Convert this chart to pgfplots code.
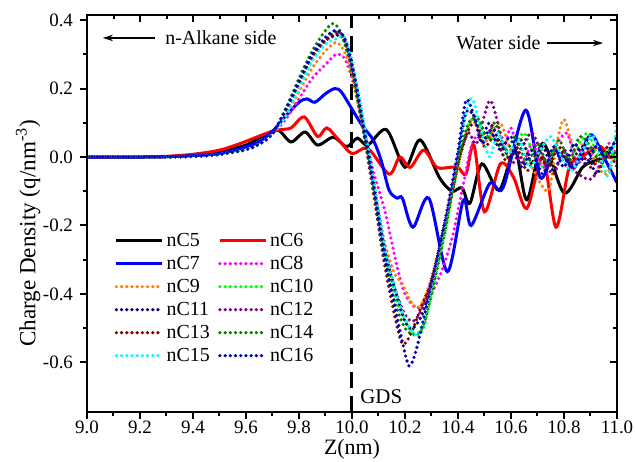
\documentclass[border=0pt]{standalone}
\usepackage{fontspec}
\IfFontExistsTF{LiberationSerif-Regular.ttf}{\setmainfont{LiberationSerif-Regular.ttf}[BoldFont=LiberationSerif-Bold.ttf, ItalicFont=LiberationSerif-Italic.ttf]}{\setmainfont{Liberation Serif}}
\usepackage{pgfplots}
\pgfplotsset{compat=1.18}
\usetikzlibrary{arrows.meta}
\definecolor{cOrange}{RGB}{255,128,0}
\definecolor{cMagenta}{RGB}{255,0,255}
\definecolor{cGreen}{RGB}{0,255,0}
\definecolor{cNavy}{RGB}{0,0,128}
\definecolor{cPurple}{RGB}{128,0,128}
\definecolor{cMaroon}{RGB}{128,0,0}
\definecolor{cDkGreen}{RGB}{0,128,0}
\definecolor{cCyan}{RGB}{0,255,255}
\definecolor{cBlue16}{RGB}{0,0,190}
\pgfplotsset{
  common/.style={
    at={(0,0)}, anchor=south west, scale only axis,
    width=265bp, height=198.5bp,
    xmin=9, xmax=11, ymin=-0.745, ymax=0.415,
    xtick={9,9.2,9.4,9.6,9.8,10,10.2,10.4,10.6,10.8,11},
    ytick={-0.6,-0.4,-0.2,0,0.2,0.4},
    minor x tick num=1, minor y tick num=1,
    major tick length=3.5bp, minor tick length=2bp,
    every tick/.style={line width=1bp, black},
    axis line style={line width=1bp},
  },
  solidc/.style={line width=1.5bp, smooth, no marks},
  dotc/.style={line width=1.8bp, smooth, no marks, line cap=round, dash pattern=on 0pt off 2.6bp},
}
\begin{document}
\begin{tikzpicture}
\useasboundingbox (-43.5bp,-25bp) rectangle (274bp,206bp);
\begin{axis}[common,
  tick align=outside, xtick pos=bottom, ytick pos=left,
  /pgf/number format/assume math mode=true,
  xticklabel style={yshift=2.5bp, /pgf/number format/.cd, fixed, fixed zerofill, precision=1},
  yticklabel style={/pgf/number format/.cd, fixed, fixed zerofill, precision=1},
  tick label style={font=\fontsize{9.5}{11}\selectfont},
  xlabel={Z(nm)}, ylabel={Charge Density (q/nm\textsuperscript{-3})},
  every axis x label/.style={at={(axis description cs:0.5,-0.095)}, anchor=center, inner sep=0pt, font=\fontsize{11}{13}\selectfont},
  every axis y label/.style={at={(axis description cs:-0.111,0.45)}, anchor=center, inner sep=0pt, rotate=90, font=\fontsize{11.6}{14}\selectfont},
  legend columns=2, legend cell align=left,
  legend image code/.code={\draw[#1] (0bp,0bp) -- (23bp,0bp);},
  legend style={at={(0.04,0.47)}, anchor=north west, draw=none, fill=none,
    font=\fontsize{10}{12}\selectfont, row sep=0.6bp,
    nodes={inner sep=1.2bp, text height=7bp, text depth=1.5bp},
    /tikz/every even column/.append style={column sep=3bp}},
]
\draw[line width=1.5bp, dash pattern=on 8bp off 4bp] (axis cs:10,-0.745) -- (axis cs:10,0.415);
% nC5
\addplot[solidc, black] coordinates {(9.0,0) (9.2,0) (9.3,0.001) (9.4,0.005) (9.5,0.015) (9.6,0.035) (9.66,0.06) (9.72,0.079) (9.77,0.044) (9.823,0.073) (9.87,0.035) (9.93,0.058) (9.98,0.03) (10.02,0.055) (10.06,0.035) (10.13,0.08) (10.2,-0.03) (10.257,0.05) (10.33,-0.06) (10.377,-0.1) (10.415,-0.09) (10.445,-0.135) (10.49,-0.02) (10.555,-0.097) (10.615,0.02) (10.66,-0.125) (10.72,0.04) (10.80,-0.105) (10.87,-0.03) (10.92,-0.01) (10.96,0.0) (11.0,0.0)};
% nC6
\addplot[solidc, red] coordinates {(9.0,0) (9.2,0) (9.3,0.002) (9.4,0.008) (9.5,0.02) (9.58,0.04) (9.63,0.055) (9.68,0.07) (9.73,0.08) (9.77,0.085) (9.82,0.117) (9.87,0.06) (9.905,0.085) (9.95,0.05) (10.0,0.01) (10.06,0.025) (10.14,-0.05) (10.18,0.0) (10.22,-0.03) (10.27,0.02) (10.32,-0.03) (10.37,-0.03) (10.40,-0.03) (10.43,-0.05) (10.46,0.035) (10.50,-0.16) (10.56,-0.02) (10.61,-0.06) (10.66,-0.15) (10.72,0.0) (10.77,-0.205) (10.82,-0.03) (10.87,0.0) (10.9,0.02) (10.94,0.03) (10.97,0.0) (11.0,0.0)};
% nC7
\addplot[solidc, blue] coordinates {(9.0,0) (9.2,0) (9.3,0.001) (9.4,0.004) (9.5,0.01) (9.6,0.03) (9.65,0.045) (9.7,0.075) (9.75,0.12) (9.8,0.16) (9.83,0.17) (9.86,0.16) (9.9,0.185) (9.935,0.2) (9.96,0.19) (10.0,0.14) (10.04,0.09) (10.08,0.05) (10.11,-0.01) (10.14,-0.097) (10.17,-0.12) (10.19,-0.12) (10.23,-0.205) (10.29,-0.12) (10.36,-0.335) (10.42,-0.126) (10.45,-0.20) (10.52,-0.077) (10.57,-0.09) (10.655,0.137) (10.71,-0.06) (10.76,0.01) (10.8,0.0) (10.84,-0.03) (10.9,0.065) (10.95,0.0) (11.0,-0.075)};
% nC8
\addplot[dotc, cMagenta] coordinates {(9.0,0) (9.2,0) (9.4,0.002) (9.5,0.008) (9.6,0.022) (9.65,0.038) (9.7,0.068) (9.75,0.11) (9.8,0.17) (9.85,0.23) (9.9,0.27) (9.94,0.30) (9.97,0.29) (10.0,0.23) (10.04,0.1) (10.08,-0.04) (10.125,-0.16) (10.17,-0.32) (10.2,-0.4) (10.24,-0.44) (10.27,-0.43) (10.3,-0.40) (10.34,-0.33) (10.38,-0.23) (10.42,-0.08) (10.45,0.03) (10.48,0.07) (10.5,0.04) (10.53,0.09) (10.57,0.02) (10.6,0.085) (10.64,-0.02) (10.68,0.04) (10.72,-0.03) (10.76,0.02) (10.81,0.07) (10.85,-0.02) (10.89,0.03) (10.93,-0.03) (10.97,0.04) (11.0,0.0)};
% nC9
\addplot[dotc, cOrange] coordinates {(9.0,0) (9.2,0) (9.4,0.002) (9.5,0.008) (9.6,0.022) (9.65,0.038) (9.7,0.068) (9.75,0.12) (9.8,0.19) (9.85,0.26) (9.9,0.31) (9.94,0.335) (9.97,0.31) (10.0,0.24) (10.04,0.09) (10.08,-0.07) (10.12,-0.24) (10.16,-0.34) (10.19,-0.37) (10.22,-0.42) (10.25,-0.44) (10.28,-0.4) (10.32,-0.3) (10.36,-0.17) (10.4,-0.03) (10.43,0.07) (10.46,0.11) (10.49,0.04) (10.52,0.06) (10.56,0.10) (10.6,0.02) (10.64,0.05) (10.68,-0.03) (10.74,-0.1) (10.77,0.03) (10.80,0.11) (10.84,0.02) (10.88,0.04) (10.92,-0.02) (10.96,-0.05) (11.0,0.02)};
% nC10
\addplot[dotc, cGreen] coordinates {(9.0,0) (9.2,0) (9.4,0.002) (9.5,0.008) (9.6,0.022) (9.65,0.038) (9.7,0.068) (9.75,0.13) (9.8,0.21) (9.85,0.29) (9.9,0.345) (9.94,0.37) (9.97,0.34) (10.0,0.26) (10.04,0.1) (10.08,-0.08) (10.12,-0.27) (10.16,-0.4) (10.2,-0.48) (10.24,-0.52) (10.27,-0.5) (10.3,-0.4) (10.35,-0.22) (10.4,-0.02) (10.44,0.09) (10.47,0.12) (10.5,0.06) (10.54,0.05) (10.58,0.0) (10.62,0.04) (10.65,0.07) (10.69,0.0) (10.73,-0.03) (10.77,0.03) (10.81,-0.02) (10.85,0.03) (10.89,0.07) (10.93,0.0) (10.97,0.02) (11.0,-0.02)};
% nC11
\addplot[dotc, cNavy] coordinates {(9.0,0) (9.2,0) (9.4,0.002) (9.5,0.008) (9.6,0.022) (9.65,0.038) (9.7,0.068) (9.75,0.14) (9.8,0.22) (9.85,0.3) (9.9,0.34) (9.94,0.355) (9.97,0.35) (10.0,0.27) (10.04,0.11) (10.08,-0.07) (10.12,-0.26) (10.16,-0.38) (10.2,-0.48) (10.23,-0.5) (10.27,-0.45) (10.31,-0.33) (10.36,-0.16) (10.4,0.0) (10.43,0.13) (10.46,0.12) (10.49,0.06) (10.52,0.1) (10.56,0.04) (10.6,0.0) (10.64,0.05) (10.68,-0.02) (10.72,0.03) (10.76,-0.04) (10.8,0.02) (10.84,-0.03) (10.88,0.04) (10.92,-0.05) (10.96,0.01) (11.0,0.05)};
% nC12
\addplot[dotc, cPurple] coordinates {(9.0,0) (9.2,0) (9.4,0.002) (9.5,0.008) (9.6,0.022) (9.65,0.038) (9.7,0.068) (9.75,0.13) (9.8,0.21) (9.85,0.29) (9.9,0.34) (9.94,0.365) (9.97,0.35) (10.0,0.27) (10.04,0.11) (10.08,-0.07) (10.12,-0.25) (10.16,-0.38) (10.2,-0.46) (10.23,-0.48) (10.26,-0.45) (10.3,-0.37) (10.35,-0.2) (10.4,-0.01) (10.44,0.07) (10.47,0.04) (10.52,0.165) (10.56,0.07) (10.6,-0.02) (10.64,0.03) (10.68,0.07) (10.72,0.0) (10.76,-0.05) (10.8,0.02) (10.84,-0.04) (10.9,-0.065) (10.94,-0.02) (10.97,0.01) (11.0,-0.03)};
% nC13
\addplot[dotc, cMaroon] coordinates {(9.0,0) (9.2,0) (9.4,0.002) (9.5,0.008) (9.6,0.022) (9.65,0.038) (9.7,0.068) (9.75,0.13) (9.8,0.21) (9.85,0.29) (9.9,0.34) (9.94,0.36) (9.97,0.34) (10.0,0.26) (10.04,0.09) (10.08,-0.1) (10.12,-0.3) (10.16,-0.46) (10.19,-0.545) (10.22,-0.52) (10.26,-0.44) (10.3,-0.36) (10.35,-0.2) (10.4,-0.02) (10.44,0.08) (10.47,0.1) (10.5,0.03) (10.54,0.06) (10.58,-0.01) (10.62,0.03) (10.66,-0.04) (10.7,0.01) (10.74,-0.03) (10.78,0.03) (10.82,-0.02) (10.86,0.02) (10.9,-0.03) (10.94,0.01) (10.97,0.03) (11.0,0.0)};
% nC14
\addplot[dotc, cDkGreen] coordinates {(9.0,0) (9.2,0) (9.4,0.002) (9.5,0.008) (9.6,0.022) (9.65,0.038) (9.7,0.068) (9.75,0.14) (9.8,0.23) (9.85,0.31) (9.9,0.37) (9.93,0.39) (9.96,0.36) (10.0,0.25) (10.04,0.09) (10.08,-0.09) (10.12,-0.29) (10.16,-0.42) (10.2,-0.5) (10.24,-0.52) (10.27,-0.49) (10.3,-0.4) (10.35,-0.22) (10.4,-0.02) (10.44,0.1) (10.48,0.11) (10.51,0.05) (10.54,0.1) (10.58,0.02) (10.62,0.06) (10.66,-0.02) (10.7,0.04) (10.74,-0.02) (10.78,0.05) (10.82,-0.01) (10.86,0.06) (10.9,0.03) (10.94,-0.02) (10.97,0.02) (11.0,0.0)};
% nC15
\addplot[dotc, cCyan] coordinates {(9.0,0) (9.2,0) (9.4,0.002) (9.5,0.008) (9.6,0.022) (9.65,0.038) (9.7,0.068) (9.75,0.12) (9.8,0.2) (9.85,0.28) (9.9,0.33) (9.94,0.345) (9.97,0.35) (10.0,0.28) (10.04,0.12) (10.08,-0.06) (10.12,-0.25) (10.16,-0.38) (10.2,-0.47) (10.24,-0.52) (10.27,-0.48) (10.3,-0.38) (10.35,-0.2) (10.4,0.01) (10.43,0.13) (10.455,0.17) (10.49,0.07) (10.52,0.0) (10.55,0.07) (10.59,0.01) (10.63,0.05) (10.67,-0.03) (10.71,0.02) (10.75,0.06) (10.79,0.0) (10.83,-0.04) (10.87,0.02) (10.91,0.06) (10.95,-0.03) (10.97,-0.05) (11.0,0.1)};
% nC16
\addplot[dotc, cBlue16] coordinates {(9.0,0) (9.2,0) (9.4,0.002) (9.5,0.008) (9.6,0.022) (9.65,0.038) (9.7,0.068) (9.75,0.14) (9.8,0.22) (9.85,0.3) (9.9,0.35) (9.94,0.37) (9.97,0.35) (10.0,0.27) (10.04,0.1) (10.08,-0.08) (10.12,-0.28) (10.16,-0.43) (10.19,-0.54) (10.215,-0.61) (10.24,-0.57) (10.28,-0.44) (10.32,-0.3) (10.36,-0.15) (10.4,0.02) (10.43,0.165) (10.46,0.12) (10.49,0.04) (10.52,0.08) (10.56,0.02) (10.6,0.06) (10.64,-0.03) (10.68,0.02) (10.72,-0.05) (10.76,0.03) (10.8,-0.03) (10.84,0.04) (10.88,-0.02) (10.92,0.03) (10.96,0.0) (11.0,0.06)};
\legend{nC5,nC6,nC7,nC8,nC9,nC10,nC11,nC12,nC13,nC14,nC15,nC16}
\draw[line width=0.7bp, -{Stealth[length=5bp,width=3.2bp]}] (axis cs:9.257,0.348) -- (axis cs:9.06,0.348);
\node[anchor=west, inner sep=0pt, font=\fontsize{10}{12}\selectfont] at (axis cs:9.294,0.348) {n-Alkane side};
\node[anchor=west, inner sep=0pt, font=\fontsize{10}{12}\selectfont] at (axis cs:10.392,0.333) {Water side};
\draw[line width=0.7bp, -{Stealth[length=5bp,width=3.2bp]}] (axis cs:10.736,0.333) -- (axis cs:10.947,0.333);
\node[anchor=west, inner sep=0pt, font=\fontsize{10.5}{12}\selectfont] at (axis cs:10.03,-0.699) {GDS};
\end{axis}
\begin{axis}[common, tick align=inside, xtick pos=top, ytick pos=right,
  xticklabels={}, yticklabels={}]
\end{axis}
\end{tikzpicture}
\end{document}
